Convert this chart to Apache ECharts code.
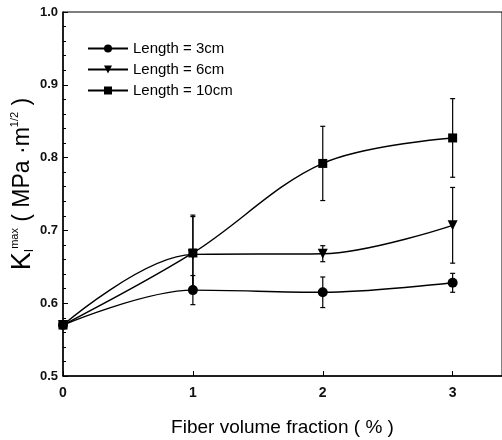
<!DOCTYPE html>
<html>
<head>
<meta charset="utf-8">
<script src="https://cdn.jsdelivr.net/npm/echarts@6/dist/echarts.min.js"></script>
<style>html,body{margin:0;padding:0;background:#fff;}#c{width:502px;height:440px;}</style>
</head>
<body>
<div id="c"></div>
<script>
var xValues = [0, 1, 2, 3];
var len3 = [0.570, 0.618, 0.615, 0.628];
var len3Err = [0.000, 0.020, 0.021, 0.013];
var len6 = [0.570, 0.667, 0.668, 0.707];
var len6Err = [0.000, 0.052, 0.011, 0.052];
var len10 = [0.570, 0.669, 0.792, 0.827];
var len10Err = [0.000, 0.052, 0.051, 0.054];
var seriesNames = ['Length = 3cm', 'Length = 6cm', 'Length = 10cm'];
var yTicks = [0.5, 0.6, 0.7, 0.8, 0.9, 1.0];

var FONT = 'Liberation Sans';
var chart = echarts.init(document.getElementById('c'), null, {renderer: 'canvas'});

function pts(vals) { return xValues.map(function (x, i) { return [x, vals[i]]; }); }
function errs(vals, e) {
  var out = [];
  xValues.forEach(function (x, i) { if (e[i] > 0) out.push([x, vals[i] - e[i], vals[i] + e[i]]); });
  return out;
}
function errSeries(vals, e) {
  return {
    type: 'custom',
    data: errs(vals, e),
    z: 1,
    silent: true,
    renderItem: function (params, api) {
      var lo = api.coord([api.value(0), api.value(1)]);
      var hi = api.coord([api.value(0), api.value(2)]);
      var cw = 2.5;
      var st = {stroke: '#000', lineWidth: 1.2};
      return {
        type: 'group',
        children: [
          {type: 'line', shape: {x1: lo[0], y1: lo[1], x2: hi[0], y2: hi[1]}, style: st},
          {type: 'line', shape: {x1: lo[0] - cw, y1: lo[1], x2: lo[0] + cw, y2: lo[1]}, style: st},
          {type: 'line', shape: {x1: hi[0] - cw, y1: hi[1], x2: hi[0] + cw, y2: hi[1]}, style: st}
        ]
      };
    }
  };
}
function lineSeries(name, vals, symbol, size) {
  return {
    name: name,
    type: 'line',
    data: pts(vals),
    smooth: 0.35,
    symbol: symbol,
    symbolSize: size,
    z: 3,
    lineStyle: {color: '#000', width: 1.4},
    itemStyle: {color: '#000'}
  };
}

var option = {
  animation: false,
  backgroundColor: '#fff',
  grid: {left: 63, right: 0, top: 12, bottom: 64, show: true, borderColor: '#000', borderWidth: 1,
         containLabel: false, outerBoundsMode: 'none'},
  legend: {
    left: 82, top: 36, orient: 'vertical', itemGap: 6, itemWidth: 40, itemHeight: 10,
    textStyle: {fontFamily: FONT, fontSize: 15, color: '#000', letterSpacing: -0.9},
    data: seriesNames
  },
  xAxis: {
    type: 'value', min: 0, max: 3.38, interval: 1,
    axisLine: {lineStyle: {color: '#000', width: 1.5}},
    axisTick: {inside: true, length: 5, lineStyle: {color: '#000'}},
    axisLabel: {fontFamily: FONT, fontSize: 14, fontWeight: 'bold', color: '#111', margin: 10, showMaxLabel: false},
    splitLine: {show: false},
    name: 'Fiber volume fraction ( % )',
    nameLocation: 'middle', nameGap: 42, nameMoveOverlap: false,
    nameTextStyle: {fontFamily: FONT, fontSize: 19, color: '#000', letterSpacing: -0.8}
  },
  yAxis: {
    type: 'value', min: yTicks[0], max: yTicks[yTicks.length - 1], interval: 0.1,
    axisLine: {lineStyle: {color: '#000', width: 1.5}},
    axisTick: {inside: true, length: 5, lineStyle: {color: '#000'}},
    minorTick: {show: true, splitNumber: 5, length: 3, lineStyle: {color: '#000'}},
    axisLabel: {
      fontFamily: FONT, fontSize: 13, fontWeight: 'bold', color: '#111', margin: 5,
      formatter: function (v) { return v.toFixed(1); }
    },
    splitLine: {show: false},
    name: '{k|K}{sub|I}{sup|max}{t| ( MPa ·m}{sup|1/2}{t| )}',
    nameLocation: 'middle', nameGap: 27, nameRotate: 90, nameMoveOverlap: false,
    nameTextStyle: {
      fontFamily: FONT, color: '#000', padding: [0, 0, 0, 20],
      rich: {
        k: {fontFamily: FONT, fontSize: 27, color: '#000', lineHeight: 27, verticalAlign: 'middle'},
        t: {fontFamily: FONT, fontSize: 23, color: '#000', lineHeight: 27, verticalAlign: 'middle'},
        sub: {fontFamily: FONT, fontSize: 12, color: '#000', lineHeight: 27, verticalAlign: 'bottom'},
        sup: {fontFamily: FONT, fontSize: 11, color: '#000', lineHeight: 21, verticalAlign: 'top'}
      }
    }
  },
  series: [
    errSeries(len3, len3Err),
    errSeries(len6, len6Err),
    errSeries(len10, len10Err),
    lineSeries(seriesNames[0], len3, 'circle', 10),
    lineSeries(seriesNames[1], len6, 'path://M0,0 L10,0 L5,9 Z', 10),
    lineSeries(seriesNames[2], len10, 'rect', 9)
  ]
};
chart.setOption(option);
</script>
</body>
</html>
